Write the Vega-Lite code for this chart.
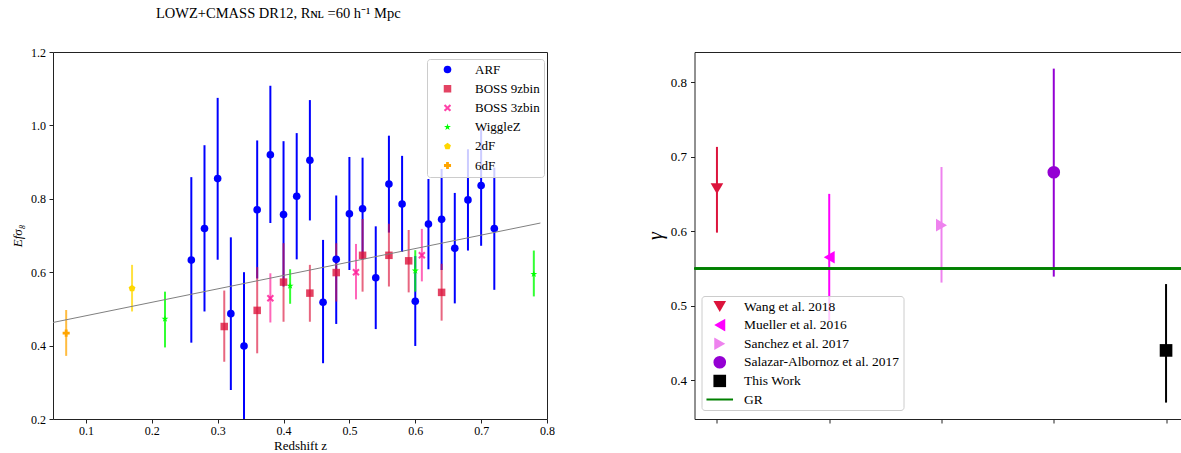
{
  "$schema": "https://vega.github.io/schema/vega-lite/v6.json",
  "autosize": {"type": "none"},
  "padding": {"left": 53, "top": 52, "right": 1128, "bottom": 401},
  "background": "white",
  "bounds": "flush",
  "spacing": 147.5,
  "title": {
    "text": "LOWZ+CMASS DR12, Rɴʟ =60 h⁻¹ Mpc",
    "font": "Liberation Serif",
    "fontSize": 14.5,
    "fontWeight": "normal",
    "color": "black",
    "anchor": "start",
    "frame": "group",
    "baseline": "alphabetic",
    "dx": 103,
    "offset": 13.5
  },
  "resolve": {
    "scale": {"fill": "independent", "shape": "independent", "size": "independent", "stroke": "independent"},
    "legend": {"fill": "independent", "shape": "independent", "size": "independent", "stroke": "independent"}
  },
  "config": {
    "view": {"stroke": "#222222", "strokeWidth": 1},
    "axis": {
      "grid": false,
      "domain": false,
      "tickColor": "#222222",
      "tickSize": 4,
      "labelColor": "black",
      "titleColor": "black",
      "labelFont": "Liberation Serif",
      "titleFont": "Liberation Serif",
      "titleFontWeight": "normal"
    },
    "legend": {
      "labelFont": "Liberation Serif",
      "labelFontSize": 13.5,
      "labelColor": "black",
      "strokeColor": "#cccccc",
      "fillColor": "rgba(255,255,255,0.8)",
      "cornerRadius": 3
    }
  },
  "hconcat": [
    {
      "width": 494,
      "height": 367,
      "data": {
        "values": [
          {"series": "ARF", "z": 0.26, "v": 0.633, "lo": 0.408, "hi": 0.859},
          {"series": "ARF", "z": 0.28, "v": 0.719, "lo": 0.493, "hi": 0.946},
          {"series": "ARF", "z": 0.30, "v": 0.855, "lo": 0.634, "hi": 1.075},
          {"series": "ARF", "z": 0.32, "v": 0.487, "lo": 0.279, "hi": 0.695},
          {"series": "ARF", "z": 0.34, "v": 0.399, "lo": 0.199, "hi": 0.600},
          {"series": "ARF", "z": 0.36, "v": 0.770, "lo": 0.583, "hi": 0.959},
          {"series": "ARF", "z": 0.38, "v": 0.920, "lo": 0.734, "hi": 1.108},
          {"series": "ARF", "z": 0.40, "v": 0.757, "lo": 0.561, "hi": 0.957},
          {"series": "ARF", "z": 0.42, "v": 0.807, "lo": 0.635, "hi": 0.979},
          {"series": "ARF", "z": 0.44, "v": 0.905, "lo": 0.741, "hi": 1.069},
          {"series": "ARF", "z": 0.46, "v": 0.518, "lo": 0.352, "hi": 0.688},
          {"series": "ARF", "z": 0.48, "v": 0.635, "lo": 0.459, "hi": 0.809},
          {"series": "ARF", "z": 0.50, "v": 0.759, "lo": 0.606, "hi": 0.914},
          {"series": "ARF", "z": 0.52, "v": 0.773, "lo": 0.634, "hi": 0.912},
          {"series": "ARF", "z": 0.54, "v": 0.585, "lo": 0.445, "hi": 0.725},
          {"series": "ARF", "z": 0.56, "v": 0.840, "lo": 0.708, "hi": 0.972},
          {"series": "ARF", "z": 0.58, "v": 0.786, "lo": 0.655, "hi": 0.917},
          {"series": "ARF", "z": 0.60, "v": 0.521, "lo": 0.399, "hi": 0.644},
          {"series": "ARF", "z": 0.62, "v": 0.731, "lo": 0.608, "hi": 0.854},
          {"series": "ARF", "z": 0.64, "v": 0.744, "lo": 0.606, "hi": 0.881},
          {"series": "ARF", "z": 0.66, "v": 0.665, "lo": 0.515, "hi": 0.816},
          {"series": "ARF", "z": 0.68, "v": 0.797, "lo": 0.659, "hi": 0.935},
          {"series": "ARF", "z": 0.70, "v": 0.836, "lo": 0.672, "hi": 0.990},
          {"series": "ARF", "z": 0.72, "v": 0.719, "lo": 0.552, "hi": 0.885},
          {"series": "BOSS 9zbin", "z": 0.31, "v": 0.452, "lo": 0.356, "hi": 0.550},
          {"series": "BOSS 9zbin", "z": 0.36, "v": 0.496, "lo": 0.379, "hi": 0.614},
          {"series": "BOSS 9zbin", "z": 0.40, "v": 0.573, "lo": 0.465, "hi": 0.679},
          {"series": "BOSS 9zbin", "z": 0.44, "v": 0.543, "lo": 0.465, "hi": 0.620},
          {"series": "BOSS 9zbin", "z": 0.48, "v": 0.599, "lo": 0.520, "hi": 0.679},
          {"series": "BOSS 9zbin", "z": 0.52, "v": 0.646, "lo": 0.547, "hi": 0.745},
          {"series": "BOSS 9zbin", "z": 0.56, "v": 0.646, "lo": 0.561, "hi": 0.732},
          {"series": "BOSS 9zbin", "z": 0.59, "v": 0.631, "lo": 0.545, "hi": 0.715},
          {"series": "BOSS 9zbin", "z": 0.64, "v": 0.545, "lo": 0.468, "hi": 0.623},
          {"series": "BOSS 3zbin", "z": 0.38, "v": 0.529, "lo": 0.463, "hi": 0.597},
          {"series": "BOSS 3zbin", "z": 0.51, "v": 0.600, "lo": 0.526, "hi": 0.677},
          {"series": "BOSS 3zbin", "z": 0.61, "v": 0.646, "lo": 0.575, "hi": 0.718},
          {"series": "WiggleZ", "z": 0.22, "v": 0.473, "lo": 0.395, "hi": 0.547},
          {"series": "WiggleZ", "z": 0.41, "v": 0.563, "lo": 0.514, "hi": 0.608},
          {"series": "WiggleZ", "z": 0.60, "v": 0.604, "lo": 0.547, "hi": 0.660},
          {"series": "WiggleZ", "z": 0.78, "v": 0.595, "lo": 0.534, "hi": 0.659},
          {"series": "2dF", "z": 0.17, "v": 0.556, "lo": 0.493, "hi": 0.620},
          {"series": "6dF", "z": 0.07, "v": 0.434, "lo": 0.372, "hi": 0.497}
        ]
      },
      "layer": [
        {
          "mark": {"type": "rule", "strokeWidth": 2, "clip": true},
          "encoding": {
            "x": {
              "field": "z", "type": "quantitative",
              "scale": {"domain": [0.05, 0.8], "nice": false, "zero": false},
              "axis": {
                "values": [0.1, 0.2, 0.3, 0.4, 0.5, 0.6, 0.7, 0.8],
                "format": ".1f",
                "labelFont": "Liberation Serif",
                "labelFontSize": 12,
                "labelPadding": 2,
                "labelFlush": false,
                "titleFontSize": 13,
                "titlePadding": 3
              },
              "title": "Redshift z"
            },
            "y": {
              "field": "lo", "type": "quantitative",
              "scale": {"domain": [0.2, 1.2], "nice": false, "zero": false},
              "axis": {
                "values": [0.2, 0.4, 0.6, 0.8, 1.0, 1.2],
                "format": ".1f",
                "labelFont": "Liberation Serif",
                "labelFontSize": 12,
                "labelPadding": 3.5,
                "labelFlush": false,
                "titleFontSize": 13,
                "titleFontStyle": "italic",
                "titlePadding": 6
              },
              "title": "Efσ₈"
            },
            "y2": {"field": "hi"},
            "stroke": {
              "field": "series", "type": "nominal",
              "scale": {
                "domain": ["6dF", "2dF", "WiggleZ", "BOSS 3zbin", "BOSS 9zbin", "ARF"],
                "range": ["rgba(255,165,0,0.75)", "rgba(255,215,0,0.75)", "rgba(0,255,0,0.8)", "rgba(255,20,147,0.65)", "rgba(220,20,60,0.65)", "#0000ff"]
              },
              "legend": null
            }
          }
        },
        {
          "mark": {"type": "point", "filled": true, "opacity": 1, "strokeWidth": 0},
          "encoding": {
            "x": {"field": "z", "type": "quantitative"},
            "y": {"field": "v", "type": "quantitative"},
            "fill": {
              "field": "series", "type": "nominal",
              "scale": {
                "domain": ["ARF", "BOSS 9zbin", "BOSS 3zbin", "WiggleZ", "2dF", "6dF"],
                "range": ["#0000ff", "rgba(220,20,60,0.8)", "rgba(255,20,147,0.8)", "#00ff00", "#ffd700", "#ffa500"]
              },
              "legend": {
                "title": null,
                "orient": "none",
                "legendX": 374,
                "legendY": 7,
                "padding": 4,
                "symbolOffset": 10,
                "labelOffset": 21,
                "rowPadding": 5.2,
                "clipHeight": 13,
                "labelFont": "Liberation Serif",
                "labelFontSize": 13,
                "symbolStrokeWidth": 0
              }
            },
            "shape": {
              "field": "series", "type": "nominal",
              "scale": {
                "domain": ["ARF", "BOSS 9zbin", "BOSS 3zbin", "WiggleZ", "2dF", "6dF"],
                "range": [
                  "circle",
                  "square",
                  "M-1,-0.6L-0.6,-1L0,-0.4L0.6,-1L1,-0.6L0.4,0L1,0.6L0.6,1L0,0.4L-0.6,1L-1,0.6L-0.4,0Z",
                  "M0,-1L0.2245,-0.309L0.951,-0.309L0.3633,0.118L0.5878,0.809L0,0.382L-0.5878,0.809L-0.3633,0.118L-0.951,-0.309L-0.2245,-0.309Z",
                  "M0,-1L0.951,-0.309L0.588,0.809L-0.588,0.809L-0.951,-0.309Z",
                  "cross"
                ]
              }
            },
            "size": {
              "field": "series", "type": "nominal",
              "scale": {
                "domain": ["ARF", "BOSS 9zbin", "BOSS 3zbin", "WiggleZ", "2dF", "6dF"],
                "range": [58, 50, 50, 60, 52, 52]
              }
            }
          }
        },
        {
          "data": {
            "values": [
              {"z": 0.05, "v": 0.463},
              {"z": 0.79, "v": 0.734}
            ]
          },
          "mark": {"type": "line", "color": "#808080", "strokeWidth": 1},
          "encoding": {
            "x": {"field": "z", "type": "quantitative"},
            "y": {"field": "v", "type": "quantitative"}
          }
        }
      ]
    },
    {
      "width": 494,
      "height": 367,
      "data": {
        "values": [
          {"study": "Wang et al. 2018", "pos": 0, "g": 0.657, "lo": 0.598, "hi": 0.713},
          {"study": "Mueller et al. 2016", "pos": 1, "g": 0.565, "lo": 0.480, "hi": 0.650},
          {"study": "Sanchez et al. 2017", "pos": 2, "g": 0.608, "lo": 0.531, "hi": 0.686},
          {"study": "Salazar-Albornoz et al. 2017", "pos": 3, "g": 0.679, "lo": 0.539, "hi": 0.818},
          {"study": "This Work", "pos": 4, "g": 0.440, "lo": 0.370, "hi": 0.529}
        ]
      },
      "layer": [
        {
          "mark": {"type": "rule", "strokeWidth": 2},
          "encoding": {
            "x": {
              "field": "pos", "type": "quantitative",
              "scale": {"domain": [-0.2, 4.2], "nice": false, "zero": false},
              "axis": {"values": [0, 1, 2, 3, 4], "labels": false, "tickSize": 4},
              "title": null
            },
            "y": {
              "field": "lo", "type": "quantitative",
              "scale": {"domain": [0.348, 0.8403], "nice": false, "zero": false},
              "axis": {
                "values": [0.4, 0.5, 0.6, 0.7, 0.8],
                "format": ".1f",
                "labelFont": "Liberation Serif",
                "labelFontSize": 13,
                "labelPadding": 4,
                "labelFlush": false,
                "titleFontSize": 20,
                "titleFontStyle": "italic",
                "titlePadding": 5
              },
              "title": "γ"
            },
            "y2": {"field": "hi"},
            "stroke": {
              "field": "study", "type": "nominal",
              "scale": {
                "domain": ["Wang et al. 2018", "Mueller et al. 2016", "Sanchez et al. 2017", "Salazar-Albornoz et al. 2017", "This Work"],
                "range": ["#dc143c", "#ff00ff", "#ee82ee", "#9400d3", "#000000"]
              },
              "legend": null
            }
          }
        },
        {
          "mark": {"type": "rule", "stroke": "#008000", "strokeWidth": 2},
          "encoding": {"y": {"datum": 0.55}}
        },
        {
          "mark": {"type": "point", "filled": true, "opacity": 1, "strokeWidth": 0},
          "encoding": {
            "x": {"field": "pos", "type": "quantitative"},
            "y": {"field": "g", "type": "quantitative"},
            "fill": {
              "field": "study", "type": "nominal",
              "scale": {
                "domain": ["Wang et al. 2018", "Mueller et al. 2016", "Sanchez et al. 2017", "Salazar-Albornoz et al. 2017", "This Work", "GR"],
                "range": ["#dc143c", "#ff00ff", "#ee82ee", "#9400d3", "#000000", "#008000"]
              },
              "legend": {
                "title": null,
                "orient": "none",
                "legendX": 7,
                "legendY": 244,
                "padding": 4,
                "symbolOffset": 7.5,
                "labelOffset": 17.5,
                "rowPadding": 4.6,
                "clipHeight": 13,
                "labelFont": "Liberation Serif",
                "labelFontSize": 13.5,
                "symbolStrokeWidth": 0
              }
            },
            "shape": {
              "field": "study", "type": "nominal",
              "scale": {
                "domain": ["Wang et al. 2018", "Mueller et al. 2016", "Sanchez et al. 2017", "Salazar-Albornoz et al. 2017", "This Work", "GR"],
                "range": ["triangle-down", "triangle-left", "triangle-right", "circle", "square", "M-2.1,-0.15L2.1,-0.15L2.1,0.15L-2.1,0.15Z"]
              }
            },
            "size": {
              "field": "study", "type": "nominal",
              "scale": {
                "domain": ["Wang et al. 2018", "Mueller et al. 2016", "Sanchez et al. 2017", "Salazar-Albornoz et al. 2017", "This Work", "GR"],
                "range": [160, 160, 160, 125, 140, 169]
              }
            }
          }
        }
      ]
    }
  ]
}
